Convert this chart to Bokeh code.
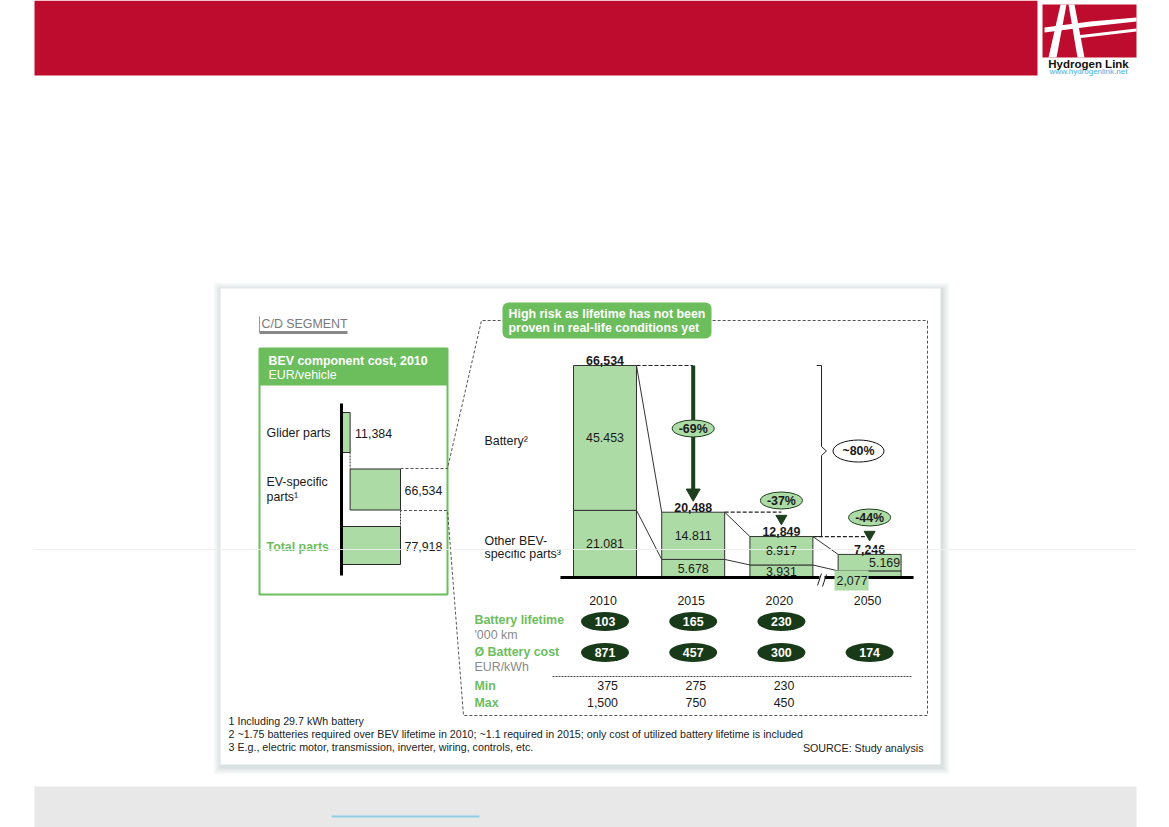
from bokeh.plotting import figure
from bokeh.models import Range1d
from bokeh.core.properties import value
from bokeh.embed import file_html
from bokeh.resources import INLINE

# ---------------- data ----------------
years = ["2010", "2015", "2020", "2050"]
battery = [45453, 14811, 8917, 5169]
other_parts = [21081, 5678, 3931, 2077]
totals = [66534, 20488, 12849, 7246]
battery_labels = ["45.453", "14.811", "8.917", "5.169"]
other_labels = ["21.081", "5.678", "3.931", "2,077"]
total_labels = ["66,534", "20,488", "12,849", "7,246"]
step_changes = ["-69%", "-37%", "-44%"]
overall_change = "~80%"
battery_lifetime = ["103", "165", "230"]
battery_cost = ["871", "457", "300", "174"]
cost_min = ["375", "275", "230"]
cost_max = ["1,500", "750", "450"]
component_names = ["Glider parts", "EV-specific parts¹", "Total parts"]
glider_parts = 11384
ev_parts = 66534
total_parts = 77918
footnotes = [
    "1 Including 29.7 kWh battery",
    "2 ~1.75 batteries required over BEV lifetime in 2010; ~1.1 required in 2015; only cost of utilized battery lifetime is included",
    "3 E.g., electric motor, transmission, inverter, wiring, controls, etc.",
]

# ---------------- styles ----------------
FONT = value("Liberation Sans")
RED = "#be0c2e"
GREEN = "#6cbd5c"
BAR = "#addba5"
DARK = "#1a1a1a"
DG = "#1d3f1d"
ELL = "#183a18"
GRAY = "#8a8a8a"

W, H = 1169, 827
X_LO, X_HI, Y_LO, Y_HI = 0, W, 0, H
p = figure(width=W, height=H, x_range=Range1d(X_LO, X_HI), y_range=Range1d(Y_HI, Y_LO),
           output_backend="svg", toolbar_location=None, min_border=0,
           x_axis_location=None, y_axis_location=None)
p.grid.visible = False
p.outline_line_color = None
p.background_fill_color = "white"
p.border_fill_color = "white"

# scales for the two bar charts
BAR_X0, BAR_DX = 604.5, 88.2
BASE_Y, TOP_Y = 577.0, 365.0
k = (BASE_Y - TOP_Y) / totals[0]
AX0, AX1 = 341.0, 400.0
k2 = (AX1 - AX0) / total_parts
p.extra_x_ranges = {
    "c": Range1d((X_LO - BAR_X0) / BAR_DX, (X_HI - BAR_X0) / BAR_DX),
    "h": Range1d((X_LO - AX0) / k2, (X_HI - AX0) / k2),
}
p.extra_y_ranges = {"v": Range1d(-(Y_HI - BASE_Y) / k, (BASE_Y - Y_LO) / k)}
HALF = 0.357


def T(x, y, t, size=12.4, color=DARK, bold=False, align="left", baseline="middle",
      xr="default", yr="default", xo=0, yo=0):
    def aslist(a):
        return list(a) if isinstance(a, (list, tuple)) else [a]
    xs, ys, ts = aslist(x), aslist(y), aslist(t)
    n = max(len(xs), len(ys), len(ts))
    xs = xs * n if len(xs) == 1 else xs
    ys = ys * n if len(ys) == 1 else ys
    ts = ts * n if len(ts) == 1 else ts
    p.text(x=xs, y=ys, text=ts, text_font=FONT, text_font_size=value(f"{size}px"),
           text_color=color, text_font_style="bold" if bold else "normal",
           text_align=align, text_baseline=baseline, x_range_name=xr, y_range_name=yr,
           x_offset=xo, y_offset=yo)


# ---------------- slide frame ----------------
p.quad(left=34, right=1037, top=0, bottom=75, fill_color=RED, line_color=None)
# logo
p.quad(left=1042, right=1136, top=4, bottom=57, fill_color=RED, line_color=None)
p.patches(xs=[[1060, 1066, 1056, 1048], [1068, 1074, 1084, 1077],
              [1044, 1090, 1136, 1136, 1090, 1044], [1076, 1136, 1136, 1076]],
          ys=[[4, 4, 57, 57], [4, 4, 57, 57],
              [27, 21, 17, 21, 26, 32], [35, 28, 31, 38]],
          fill_color="white", line_color=None)
T(1088, 63, "Hydrogen Link", size=11.5, color="#111111", bold=True, align="center")
T(1088, 71, "www.hydrogenlink.net", size=8, color="#4aaee0", align="center")

# footer
p.quad(left=34, right=1136, top=786, bottom=830, fill_color="#e8e8e8", line_color=None)
p.segment(x0=[331], x1=[479], y0=[816], y1=[816], line_color="#8fd0e8", line_width=2)

# card with shadow
for d in range(1, 9):
    p.quad(left=220 - d + 1, right=940 + d + 1, top=288 - d + 2, bottom=764 + d + 2,
           fill_color="#7f9590", fill_alpha=0.035, line_color=None)
p.quad(left=220, right=940, top=288, bottom=764, fill_color="white", line_color=None)

# ---------------- left panel ----------------
T(261, 323, "C/D SEGMENT", color="#7a7a7a")
p.segment(x0=[259], x1=[259], y0=[316], y1=[332], line_color="#999999", line_width=1)
p.segment(x0=[259], x1=[347], y0=[332], y1=[332], line_color="#888888", line_width=3)

p.quad(left=259, right=447, top=348, bottom=594, fill_color=None, line_color=GREEN, line_width=2)
p.quad(left=259, right=447, top=348, bottom=385, fill_color=GREEN, line_color=None)
T(268, 360, "BEV component cost, 2010", color="white", bold=True)
T(268, 374, "EUR/vehicle", color="white")

p.hbar(y=[432, 489, 545], left=[0, glider_parts, 0],
       right=[glider_parts, glider_parts + ev_parts, total_parts],
       height=[40, 41, 38], x_range_name="h", fill_color=BAR, line_color="#2a2a2a", line_width=1)
p.segment(x0=[0], x1=[0], y0=[403], y1=[575], x_range_name="h", line_color="black", line_width=3)
p.segment(x0=[glider_parts, total_parts], x1=[glider_parts, total_parts], y0=[452, 510], y1=[468, 526],
          x_range_name="h", line_color="#333333", line_width=1, line_dash="2 1")
T(glider_parts, 433, f"{glider_parts:,}", xr="h", xo=5)
T(total_parts, 490, f"{ev_parts:,}", xr="h", xo=4)
T(total_parts, 546, f"{total_parts:,}", xr="h", xo=4)

T(266, 432, component_names[0])
ev_words = component_names[1].split(" ")
T(266, 481, ev_words[0])
T(266, 496, ev_words[1])
T(266, 546, component_names[2], color=GREEN, bold=True)

# dashed zoom frame
p.line(x=[400, 447, 481, 927, 927, 463, 447, 400], y=[468, 468, 320, 320, 715, 715, 510, 510],
       line_color="#555555", line_width=1, line_dash="3 2")

# callout
p.quad(left=502, right=711, top=302, bottom=338, fill_color=GREEN, line_color=None, border_radius=6)
T(508, 313, "High risk as lifetime has not been", color="white", bold=True)
T(508, 327, "proven in real-life conditions yet", color="white", bold=True)

# ---------------- main waterfall ----------------
idx = list(range(len(years)))
tops = [o + b for o, b in zip(other_parts, battery)]

# connectors
cx0 = [i + HALF for i in idx[:-1]]
cx1 = [i + 1 - HALF for i in idx[:-1]]
p.segment(x0=cx0 + cx0, x1=cx1 + cx1, y0=tops[:-1] + other_parts[:-1], y1=tops[1:] + other_parts[1:],
          x_range_name="c", y_range_name="v", line_color="#333333", line_width=1)
p.segment(x0=cx0, x1=[i + 1 for i in idx[:-1]], y0=totals[:-1], y1=totals[:-1],
          x_range_name="c", y_range_name="v", line_color="#222222", line_width=1.2, line_dash="4 2")

p.vbar(x=idx, bottom=0, top=other_parts, width=2 * HALF, x_range_name="c", y_range_name="v",
       fill_color=BAR, line_color="#333333", line_width=1)
p.vbar(x=idx, bottom=other_parts, top=tops, width=2 * HALF, x_range_name="c", y_range_name="v",
       fill_color=BAR, line_color="#333333", line_width=1)

# baseline + break
p.segment(x0=[-0.505], x1=[3.498], y0=[0], y1=[0], x_range_name="c", y_range_name="v",
          line_color="black", line_width=3)
p.quad(left=819, right=824, top=574, bottom=580, fill_color="white", line_color=None)
p.segment(x0=[817, 822], x1=[821, 826], y0=[585, 586], y1=[573, 574], line_color="#222222", line_width=1)

# big arrow 2010 -> 2015
arrow_tip = totals[1] + 6000
p.segment(x0=[1], x1=[1], y0=[totals[0]], y1=[arrow_tip], x_range_name="c", y_range_name="v",
          line_color=DG, line_width=4)
p.scatter(x=[1], y=[arrow_tip], marker="inverted_triangle", size=14, x_range_name="c", y_range_name="v",
          fill_color=DG, line_color=DG)
p.scatter(x=[2, 3], y=[518, 534], marker="inverted_triangle", size=11, x_range_name="c",
          fill_color=DG, line_color=DG)

# bracket for overall change
mid = (totals[0] + totals[2]) / 2
notch = 4.5 / k
p.line(x=[2.40, 2.455, 2.455, 2.51, 2.455, 2.455, 2.40],
       y=[totals[0], totals[0], mid + notch, mid, mid - notch, totals[2], totals[2]],
       x_range_name="c", y_range_name="v", line_color="#222222", line_width=1)

# change ellipses
p.ellipse(x=[1, 2, 3], y=[428, 500, 517], width=42, height=17, width_units="screen",
          height_units="screen", x_range_name="c", fill_color=BAR, line_color=DG, line_width=1)
T([1, 2, 3], [428, 500, 517], step_changes, bold=True, align="center", xr="c")
p.ellipse(x=[2.874], y=[mid], width=51, height=22, width_units="screen", height_units="screen",
          x_range_name="c", y_range_name="v", fill_color="white", line_color="#111111", line_width=1)
T(2.874, mid, overall_change, bold=True, align="center", xr="c", yr="v")

# bar labels
T(idx, totals, total_labels, bold=True, align="center", baseline="alphabetic", xr="c", yr="v", yo=-5)
T(idx[:3], [o + b / 2 for o, b in zip(other_parts[:3], battery[:3])], battery_labels[:3],
  align="center", xr="c", yr="v")
T(idx[:3], [o / 2 for o in other_parts[:3]], other_labels[:3], align="center", xr="c", yr="v")
T(3 + HALF, other_parts[3] + battery[3] / 2, battery_labels[3], align="right", xr="c", yr="v", xo=-1)
p.quad(left=2.602, right=2.988, top=570, bottom=590, x_range_name="c", fill_color=BAR, line_color=None)
T(2.625, 580, other_labels[3], xr="c")

# series labels
T(484, 440, "Battery²")
T(484, 540, "Other BEV-")
T(484, 553, "specific parts³")

# ---------------- table ----------------
T(idx, 600, years, align="center", xr="c", xo=-2)
T(474, 619, "Battery lifetime", color=GREEN, bold=True)
T(474, 634, "'000 km", color=GRAY)
T(474, 651, "Ø Battery cost", color=GREEN, bold=True)
T(474, 666, "EUR/kWh", color=GRAY)
p.ellipse(x=idx[:3], y=621, width=48, height=19, width_units="screen", height_units="screen",
          x_range_name="c", fill_color=ELL, line_color=None)
T(idx[:3], 621, battery_lifetime, color="white", bold=True, align="center", xr="c")
p.ellipse(x=idx, y=652, width=48, height=19, width_units="screen", height_units="screen",
          x_range_name="c", fill_color=ELL, line_color=None)
T(idx, 652, battery_cost, color="white", bold=True, align="center", xr="c")
p.segment(x0=[552], x1=[912], y0=[676], y1=[676], line_color="#444444", line_width=1, line_dash="2 1")
T(474, 685, "Min", color=GREEN, bold=True)
T(474, 702, "Max", color=GREEN, bold=True)
T(idx[:3], 685, cost_min, align="right", xr="c", xo=13)
T(idx[:3], 702, cost_max, align="right", xr="c", xo=13)

# footnotes
T(228, 720, footnotes[0], size=10.7, color="#222222")
T(228, 733, footnotes[1], size=10.7, color="#222222")
T(228, 746, footnotes[2], size=10.7, color="#222222")
T(923, 747, "SOURCE: Study analysis", size=10.7, color="#222222", align="right")

# faint scan line across the slide
p.segment(x0=[34], x1=[1136], y0=[549], y1=[549], line_color="#eeeeee", line_alpha=0.9, line_width=1)

open("out.html", "w").write(file_html(p, INLINE))
